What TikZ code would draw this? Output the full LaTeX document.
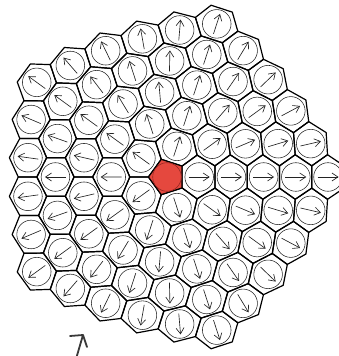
\documentclass[tikz,border=0pt]{standalone}
\usepackage{tikz}
\usetikzlibrary{arrows.meta,calc}
\definecolor{spotred}{RGB}{229,72,62}
\definecolor{spotedge}{RGB}{150,40,35}
\definecolor{ink}{RGB}{35,35,35}

\tikzset{
  hexline/.style={black,line width=1.2pt,line join=round},
  ringline/.style={ink,line width=0.55pt},
  spin/.style={ink,line width=0.65pt,-{Straight Barb[length=6pt,width=8pt]}}
}

\begin{document}
\begin{tikzpicture}[x=1pt,y=1pt]
  \useasboundingbox (0,0) rectangle (338,356);
  \def\cellsep{32.2}
  \begin{scope}[shift={(167,179)}]
    \foreach \k in {0,...,4}{
      \foreach \i in {1,...,5}{
        \pgfmathtruncatemacro\jmax{5-\i}
        \foreach \j in {0,...,\jmax}{
          \pgfmathsetmacro\cx{\i+\j/2}
          \pgfmathsetmacro\cy{\j*0.8660254}
          \foreach \m in {0,...,5}{
            \pgfmathsetmacro\vx{\cx+0.57735*cos(30+60*\m)}
            \pgfmathsetmacro\vy{\cy+0.57735*sin(30+60*\m)}
            \pgfmathsetmacro\vr{veclen(\vx,\vy)*\cellsep}
            \pgfmathsetmacro\vp{72*\k+1.2*atan2(\vy,\vx)}
            \coordinate (v\m) at (\vp:\vr);
          }
          \draw[hexline] (v0)--(v1)--(v2)--(v3)--(v4)--(v5)--cycle;
          \pgfmathsetmacro\cr{veclen(\cx,\cy)*\cellsep}
          \pgfmathsetmacro\cp{72*\k+1.2*atan2(\cy,\cx)}
          \coordinate (cell) at (\cp:\cr);
          \draw[ringline] (cell) circle[radius=14.3];
          \draw[spin] ($(cell)+(\cp:-10.5)$) -- ($(cell)+(\cp:10.5)$);
        }
      }
    }
    \coordinate (core) at (0,0);
    \draw[hexline,fill=spotred] (36:18.6)--(108:18.6)--(180:18.6)--(252:18.6)--(324:18.6)--cycle;
    \draw[spotedge,line width=0.6pt,fill=spotred] (core) circle[radius=14.3];
  \end{scope}
  \coordinate (tip) at (83,21);
  \draw[ink!90!white,line width=1.8pt,line cap=round,line join=round]
    (70,20)--(tip)--(76,-3) (tip)--(87,9);
\end{tikzpicture}
\end{document}
